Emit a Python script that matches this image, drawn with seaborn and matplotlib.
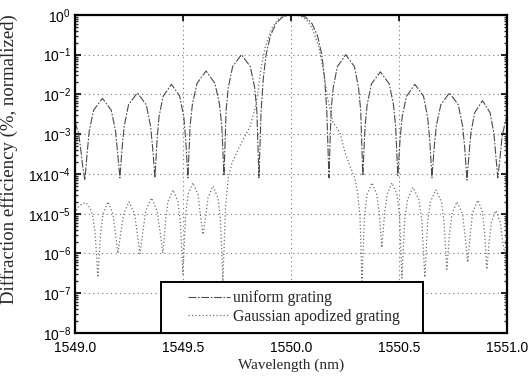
import numpy as np
import pandas as pd
import seaborn as sns
import matplotlib.pyplot as plt
from matplotlib.patches import Rectangle
from matplotlib.ticker import FixedLocator, FixedFormatter, LogLocator, NullFormatter

# uniform grating (wavelength nm, normalized efficiency)
uniform_wl = [
    1549.000, 1549.016, 1549.026, 1549.036, 1549.046,
    1549.056, 1549.066, 1549.086, 1549.127, 1549.168, 1549.188, 1549.198, 1549.208,
    1549.218, 1549.228, 1549.248, 1549.289, 1549.330, 1549.350, 1549.360, 1549.370,
    1549.380, 1549.389, 1549.408, 1549.447, 1549.485, 1549.504, 1549.513, 1549.523,
    1549.533, 1549.544, 1549.565, 1549.607, 1549.648, 1549.669, 1549.680, 1549.690,
    1549.700, 1549.710, 1549.730, 1549.771, 1549.812, 1549.832, 1549.842, 1549.852,
    1549.862, 1549.872, 1549.885, 1549.905, 1549.930, 1549.960, 1549.985, 1550.014,
    1550.043, 1550.068, 1550.098, 1550.123, 1550.143, 1550.156, 1550.166, 1550.176,
    1550.186, 1550.196, 1550.215, 1550.254, 1550.294, 1550.313, 1550.323, 1550.333,
    1550.343, 1550.353, 1550.373, 1550.414, 1550.455, 1550.475, 1550.485, 1550.495,
    1550.505, 1550.515, 1550.535, 1550.574, 1550.614, 1550.633, 1550.643, 1550.653,
    1550.663, 1550.673, 1550.694, 1550.734, 1550.775, 1550.795, 1550.805, 1550.815,
    1550.824, 1550.833, 1550.851, 1550.887, 1550.922, 1550.940, 1550.949, 1550.958,
    1550.968, 1550.978, 1551.000,
]
uniform_eff = [
    2.0e-3, 1.1e-3, 4.5e-4, 1.5e-4, 7e-5,
    3.2e-4, 1.2e-3, 4e-3, 8e-3, 4e-3, 1.2e-3, 3.2e-4, 8e-5,
    4.4e-4, 1.6e-3, 5.5e-3, 1.1e-2, 5.5e-3, 1.6e-3, 4.4e-4, 8e-5,
    7e-4, 2.7e-3, 9e-3, 1.8e-2, 9e-3, 2.7e-3, 7e-4, 8e-5,
    1.6e-3, 5.8e-3, 1.9e-2, 3.9e-2, 1.9e-2, 5.8e-3, 1.6e-3, 9e-5,
    4e-3, 1.5e-2, 5e-2, 1.0e-1, 5e-2, 1.5e-2, 4e-3, 8e-5,
    4e-3, 2.5e-2, 0.1, 0.3, 0.6, 0.88, 0.98, 1.0,
    0.98, 0.88, 0.6, 0.3, 0.1, 2.5e-2, 4e-3, 8e-5,
    4e-3, 1.5e-2, 5e-2, 1.0e-1, 5e-2, 1.5e-2, 4e-3, 9e-5,
    1.5e-3, 5.5e-3, 1.85e-2, 3.7e-2, 1.85e-2, 5.5e-3, 1.5e-3, 9e-5,
    7e-4, 2.7e-3, 9e-3, 1.8e-2, 9e-3, 2.7e-3, 7e-4, 8e-5,
    4.4e-4, 1.6e-3, 5.5e-3, 1.1e-2, 5.5e-3, 1.6e-3, 4.4e-4, 7e-5,
    2.8e-4, 1.05e-3, 3.5e-3, 7e-3, 3.5e-3, 1.05e-3, 2.8e-4, 8e-5,
    2.5e-4, 9e-4, 3e-3,
]

# Gaussian apodized grating
gauss_wl = [
    1549.000, 1549.015, 1549.035, 1549.051, 1549.070, 1549.082, 1549.094, 1549.106,
    1549.118, 1549.130, 1549.153, 1549.176, 1549.188, 1549.199,
    1549.211, 1549.226, 1549.250, 1549.276, 1549.289, 1549.301,
    1549.314, 1549.328, 1549.354, 1549.380, 1549.394, 1549.407,
    1549.419, 1549.430, 1549.454, 1549.477, 1549.488, 1549.500,
    1549.512, 1549.523, 1549.546, 1549.570, 1549.581, 1549.593,
    1549.605, 1549.616, 1549.639, 1549.662, 1549.674, 1549.685,
    1549.697, 1549.710, 1549.727, 1549.770, 1549.810, 1549.840, 1549.860, 1549.880,
    1549.910, 1549.940, 1549.970, 1550.005, 1550.040, 1550.070, 1550.100, 1550.130,
    1550.150, 1550.170, 1550.195, 1550.227, 1550.250, 1550.275, 1550.296, 1550.310,
    1550.320, 1550.329,
    1550.341, 1550.352, 1550.375, 1550.398, 1550.410, 1550.421,
    1550.433, 1550.445, 1550.468, 1550.491, 1550.503, 1550.514,
    1550.527, 1550.540, 1550.565, 1550.592, 1550.606, 1550.620,
    1550.633, 1550.646, 1550.671, 1550.697, 1550.709, 1550.722,
    1550.734, 1550.746, 1550.769, 1550.794, 1550.806, 1550.819,
    1550.831, 1550.842, 1550.866, 1550.887, 1550.897, 1550.907,
    1550.918, 1550.928, 1550.949, 1550.970, 1550.980, 1550.991, 1551.000,
]
gauss_eff = [
    1.0e-5, 1.5e-5, 1.8e-5, 1.9e-5, 1.4e-5, 9e-6, 3e-6, 2.5e-7,
    3e-6, 1e-5, 2e-5, 1e-5, 3e-6, 1e-6,
    3e-6, 1e-5, 2e-5, 1e-5, 3e-6, 1e-6,
    3.5e-6, 1.2e-5, 2.5e-5, 1.2e-5, 3.5e-6, 1e-6,
    6e-6, 2e-5, 4e-5, 2e-5, 6e-6, 3e-7,
    9e-6, 3e-5, 6e-5, 3e-5, 9e-6, 3e-6,
    8e-6, 2.5e-5, 5e-5, 2.5e-5, 7e-6, 2e-7,
    1.5e-5, 8e-5, 1.9e-4, 6e-4, 1.5e-3, 6e-3, 4e-2, 0.15,
    0.45, 0.78, 0.95, 1.0, 0.95, 0.78, 0.45, 0.15,
    4e-2, 8e-3, 2e-3, 1.1e-3, 3.5e-4, 1.5e-4, 8e-5, 3e-5,
    8e-6, 2e-7,
    9e-6, 3e-5, 6e-5, 3e-5, 9e-6, 1.4e-6,
    9e-6, 3e-5, 6e-5, 3e-5, 9e-6, 2.4e-7,
    7e-6, 2.3e-5, 4.6e-5, 2.3e-5, 7e-6, 2.5e-7,
    6e-6, 2e-5, 4e-5, 2e-5, 6e-6, 4e-7,
    3e-6, 1e-5, 2e-5, 1e-5, 3e-6, 6e-7,
    3.3e-6, 1.1e-5, 2.2e-5, 1.1e-5, 3.3e-6, 4e-7,
    2e-6, 6e-6, 1.2e-5, 6e-6, 2e-6, 1e-6, 5e-6,
]

y_ticks = [1e0, 1e-1, 1e-2, 1e-3, 1e-4, 1e-5, 1e-6, 1e-7, 1e-8]
y_tick_labels = ['$10^{0}$', '$10^{-1}$', '$10^{-2}$', '$10^{-3}$', '$1x10^{-4}$',
                 '$1x10^{-5}$', '$10^{-6}$', '$10^{-7}$', '$10^{-8}$']
x_ticks = [1549.0, 1549.5, 1550.0, 1550.5, 1551.0]
x_tick_labels = ['1549.0', '1549.5', '1550.0', '1550.5', '1551.0']

sns.set_style("ticks")
plt.rcParams['font.family'] = ['Liberation Sans', 'DejaVu Sans']
plt.rcParams['mathtext.default'] = 'regular'
plt.rcParams['xtick.direction'] = 'in'
plt.rcParams['ytick.direction'] = 'in'

df_u = pd.DataFrame({"wl": uniform_wl, "eff": uniform_eff})
df_g = pd.DataFrame({"wl": gauss_wl, "eff": gauss_eff})

fig = plt.figure(figsize=(5.28, 3.83), dpi=100)
ax = fig.add_axes([0.142, 0.1305, 0.818, 0.8305])

sns.lineplot(data=df_u, x="wl", y="eff", ax=ax, estimator=None, sort=False,
             color="#4a4a4a", linewidth=0.8, linestyle=(0, (7, 1.5, 1.5, 1.5)),
             label="uniform grating")
sns.lineplot(data=df_g, x="wl", y="eff", ax=ax, estimator=None, sort=False,
             color="#6e6e6e", linewidth=0.9, linestyle=(0, (1, 1.8)),
             label="Gaussian apodized grating")

ax.set_yscale('log')
ax.set_xlim(1549.0, 1551.0)
ax.set_ylim(1e-8, 1e0)

ax.yaxis.set_major_locator(FixedLocator(y_ticks))
ax.yaxis.set_major_formatter(FixedFormatter(y_tick_labels))
ax.yaxis.set_minor_locator(LogLocator(base=10, subs=np.arange(2, 10), numticks=20))
ax.yaxis.set_minor_formatter(NullFormatter())
ax.xaxis.set_major_locator(FixedLocator(x_ticks))
ax.xaxis.set_major_formatter(FixedFormatter(x_tick_labels))

ax.tick_params(axis='both', which='major', labelsize=10, length=4, width=1.2,
               top=True, right=True, colors='black')
ax.tick_params(axis='x', which='major', pad=6)
ax.tick_params(axis='y', which='major', pad=3)
ax.tick_params(axis='y', which='minor', length=2.5, width=1.0, left=True, right=True)

ax.grid(True, which='major', color='#777777', linestyle=(0, (1, 3)), linewidth=0.8)
for s in ax.spines.values():
    s.set_linewidth(1.6)
    s.set_color('black')

ax.set_xlabel("Wavelength (nm)", family='Liberation Serif', fontsize=11)
ax.set_ylabel("Diffraction efficiency (%, normalized)", family='Liberation Serif', fontsize=13.5)
ax.xaxis.set_label_coords(0.5, -0.08)
ax.yaxis.set_label_coords(-0.132, 0.547)

# legend box drawn as its own frame, entries placed inside it
box = Rectangle((0.199, 0.0), 0.607, 0.16, transform=ax.transAxes, facecolor='white',
                edgecolor='black', linewidth=1.4, zorder=4.5, clip_on=False)
ax.add_patch(box)
leg = ax.legend(loc='upper left', bbox_to_anchor=(0.262, 0.134), frameon=False,
                borderaxespad=0, borderpad=0,
                prop={'family': 'Liberation Serif', 'size': 11.3},
                handlelength=2.68, handletextpad=0.15, labelspacing=0.15)
leg.set_zorder(5)

fig.savefig("out.png", dpi=100)
